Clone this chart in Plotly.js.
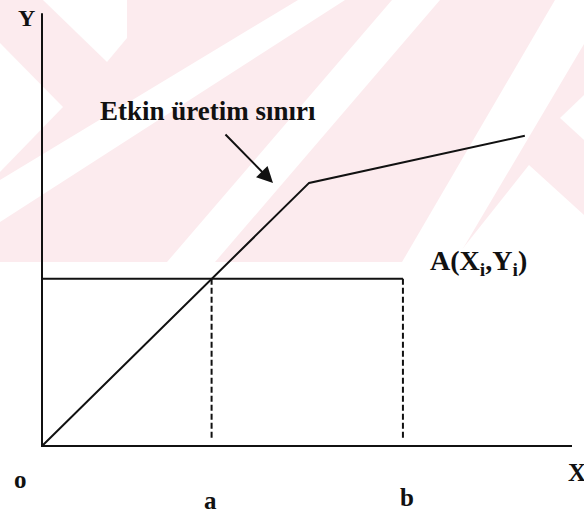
<!DOCTYPE html>
<html>
<head>
<meta charset="utf-8">
<script src="https://cdn.plot.ly/plotly-3.0.1.min.js"></script>
<style>html,body{margin:0;padding:0;background:#fff;}#chart{width:584px;height:516px;}</style>
</head>
<body>
<div id="chart"></div>
<script>
// ---- data (arbitrary units) ----
var frontierX = [0, 5.04, 9.11];
var frontierY = [0, 6.09, 7.18];
var pointA_Y = 3.87;     // Y_i level
var aX = 3.2;            // a
var bX = 6.81;           // b
var axisXEnd = 10;
var axisYEnd = 10.02;
var dashBottom = 0.14;
var axisLabels = ["Y", "o", "a", "b", "X"];
var curveLabel = "Etkin üretim sınırı";
var pointLabel = "A(X<sub>i</sub>,Y<sub>i</sub>)";

var W = 584, H = 516;
function P(x, y) { return (x / W).toFixed(4) + " " + (1 - y / H).toFixed(4); }
function poly(pts) {
  return "M" + pts.map(function (p) { return P(p[0], p[1]); }).join(" L") + " Z";
}

var pink = "#fcebee";
var shapes = [
  {type: "rect", xref: "paper", yref: "paper", x0: 0, x1: 1, y0: 1 - 262 / H, y1: 1, fillcolor: pink, line: {width: 0}, layer: "below"}
];
var whites = [
  [[298, 0], [345, 0], [0, 222], [0, 180]],
  [[392, 0], [440, 0], [215, 262], [167, 262]],
  [[555, 0], [610, 0], [455, 262], [402, 262]],
  [[43, 0], [127, 0], [127, 38], [107, 62]],
  [[0, 43], [63, 107], [0, 172]],
  [[529, 165], [584, 215], [584, 262], [452, 262]],
  [[584, 95], [560, 118], [584, 140]]
];
whites.forEach(function (pts) {
  shapes.push({type: "path", xref: "paper", yref: "paper", path: poly(pts), fillcolor: "#ffffff", line: {width: 0}, layer: "below"});
});

var blk = "#111111";
var traces = [
  {x: [0, 0, axisXEnd], y: [axisYEnd, 0, 0], mode: "lines", line: {color: blk, width: 2}, hoverinfo: "skip"},
  {x: frontierX, y: frontierY, mode: "lines", line: {color: blk, width: 2}, hoverinfo: "skip"},
  {x: [0, bX], y: [pointA_Y, pointA_Y], mode: "lines", line: {color: blk, width: 2}, hoverinfo: "skip"},
  {x: [aX, aX], y: [pointA_Y, dashBottom], mode: "lines", line: {color: blk, width: 2, dash: "6px,3px"}, hoverinfo: "skip"},
  {x: [bX, bX], y: [pointA_Y, dashBottom], mode: "lines", line: {color: blk, width: 2, dash: "6px,3px"}, hoverinfo: "skip"}
];

var ff = "Liberation Serif";
function lab(text, px, py, size) {
  return {xref: "paper", yref: "paper", x: px / W, y: 1 - py / H, text: "<b>" + text + "</b>", showarrow: false,
    xanchor: "center", yanchor: "middle", font: {family: ff, size: size, color: blk}};
}
var annotations = [
  lab(axisLabels[0], 26, 18, 24),
  lab(axisLabels[1], 20, 479, 25),
  lab(axisLabels[2], 210, 500, 25),
  lab(axisLabels[3], 407, 497, 25),
  lab(axisLabels[4], 577, 472, 25),
  lab(curveLabel, 208, 111, 27),
  lab(pointLabel, 478, 262, 28),
  {xref: "paper", yref: "paper", x: 273 / W, y: 1 - 183 / H, ax: -49, ay: -50, axref: "pixel", ayref: "pixel",
    text: "", showarrow: true, arrowhead: 2, arrowsize: 1.6, arrowwidth: 2, arrowcolor: blk, standoff: 0}
];

var layout = {
  width: W, height: H,
  margin: {l: 0, r: 0, t: 0, b: 0},
  paper_bgcolor: "#ffffff", plot_bgcolor: "rgba(0,0,0,0)",
  showlegend: false,
  xaxis: {range: [-42 / 53, 542 / 53], visible: false, fixedrange: true},
  yaxis: {range: [-70 / 43.2, 446 / 43.2], visible: false, fixedrange: true},
  shapes: shapes,
  annotations: annotations
};
Plotly.newPlot("chart", traces, layout, {staticPlot: true, displayModeBar: false});
</script>
</body>
</html>
